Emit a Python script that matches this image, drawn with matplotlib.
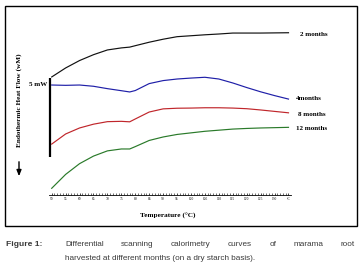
import matplotlib
matplotlib.use('Agg')
import matplotlib.pyplot as plt
from matplotlib.patches import Rectangle
from matplotlib.ticker import FixedLocator, FixedFormatter, MultipleLocator

# ---- data (heat flow in mW, curves offset for display) ----
temps = [50, 55, 60, 65, 70, 75, 78, 80, 85, 90, 95, 100, 105, 110, 115, 120, 125, 130, 135]
flow_2m = [7.79, 8.36, 8.83, 9.20, 9.50, 9.63, 9.68, 9.77, 9.99, 10.18, 10.34, 10.40,
           10.46, 10.51, 10.57, 10.57, 10.57, 10.58, 10.59]
flow_4m = [7.28, 7.26, 7.28, 7.20, 7.05, 6.92, 6.84, 6.93, 7.37, 7.56, 7.66, 7.72,
           7.77, 7.66, 7.41, 7.12, 6.85, 6.61, 6.39]
flow_8m = [3.54, 4.18, 4.56, 4.80, 4.96, 4.98, 4.95, 5.13, 5.57, 5.77, 5.81, 5.82,
           5.84, 5.84, 5.82, 5.78, 5.70, 5.61, 5.52]
flow_12m = [0.74, 1.62, 2.30, 2.78, 3.11, 3.23, 3.23, 3.38, 3.77, 3.99, 4.15, 4.25,
            4.35, 4.42, 4.49, 4.53, 4.56, 4.58, 4.60]
series_labels = ['2 months', '4months', '8 months', '12 months']
series_colors = ['#111111', '#1f1fa8', '#c0262b', '#2a7a2a']
tick_values = list(range(50, 136, 5))
tick_labels = [str(v) for v in tick_values[:-1]] + ['°C']
scale_bar_mw = 5

W, H = 364, 278
def fx(px):
    return px / W
def fy(py):
    return 1 - py / H

fig = plt.figure(figsize=(W / 100, H / 100), dpi=100)
fig.patch.set_facecolor('white')

serif = ['Liberation Serif', 'DejaVu Serif']

# data axes: x pixel 49..291, y pixel 25..195
ax = fig.add_axes([fx(49), fy(195), (291 - 49) / W, (195 - 25) / H])
ax.set_xlim(49.03, 135.9)
ax.set_ylim(0.316, 11.08)
for s in ['left', 'top', 'right']:
    ax.spines[s].set_visible(False)
ax.spines['bottom'].set_linewidth(0.6)
ax.set_yticks([])
ax.xaxis.set_major_locator(FixedLocator(tick_values))
ax.xaxis.set_major_formatter(FixedFormatter(tick_labels))
ax.xaxis.set_minor_locator(MultipleLocator(1))
ax.tick_params(axis='x', which='major', direction='in', length=1.8, width=0.5,
               pad=1.2, labelsize=2.6)
ax.tick_params(axis='x', which='minor', direction='in', length=1.1, width=0.4)
for lab in ax.get_xticklabels():
    lab.set_family(serif)

all_series = [flow_2m, flow_4m, flow_8m, flow_12m]
for vals, col in zip(all_series, series_colors):
    ax.plot(temps, vals, color=col, lw=0.85, clip_on=False)

# scale bar
ax.plot([49.4, 49.4], [7.72, 7.72 - scale_bar_mw], color='black', lw=1.6,
        solid_capstyle='butt', clip_on=False)
fig.text(fx(47), fy(85), '5 mW', ha='right', va='center', fontsize=5,
         fontweight='bold', family=serif)

# series labels
label_pos = [(300.5, 34), (295.5, 99), (298, 114), (296.5, 129)]
for (px, py), lab in zip(label_pos, series_labels):
    fig.text(fx(px), fy(py), lab, ha='left', va='center', fontsize=5,
             fontweight='bold', family=serif)

# y label and arrow
fig.text(fx(19), fy(100), 'Endothermic Heat Flow (wM)', rotation=90, ha='center',
         va='center', fontsize=5.2, fontweight='bold', family=serif)
ax.annotate('', xy=(19, H - 179), xytext=(19, H - 159),
            xycoords='figure pixels', textcoords='figure pixels',
            arrowprops=dict(arrowstyle='-|>,head_length=0.35,head_width=0.14',
                            color='black', lw=1.0))

# x label
fig.text(fx(168), fy(216), 'Temperature (°C)', ha='center', va='center', fontsize=5.2,
         fontweight='bold', family=serif)

# frame box
fig.patches.append(Rectangle((fx(5), fy(226)), (357 - 5) / W, (226 - 6) / H,
                             transform=fig.transFigure, fill=False, lw=1.0,
                             edgecolor='black'))

# caption
cap_font = ['Liberation Sans', 'DejaVu Sans']
cap_col = '#3a3a3a'
fig.canvas.draw()
r = fig.canvas.get_renderer()

def fit_size(txt, target_px, base=7.0, **kw):
    t = fig.text(0, 0, txt, fontsize=base, family=cap_font, **kw)
    w = t.get_window_extent(r).width
    t.remove()
    return base * target_px / w

line2 = 'harvested at different months (on a dry starch basis).'
body_size = fit_size(line2, 181) * 1.06

fig.text(fx(5.5), fy(245), 'Figure 1:', ha='left', va='center', fontsize=body_size * 1.04,
         fontweight='bold', family=cap_font, color=cap_col)

line1 = 'Differential scanning calorimetry curves of marama root'.split()
words = []
total = 0
for w in line1:
    t = fig.text(0, fy(245), w, ha='left', va='center', fontsize=body_size,
                 family=cap_font, color=cap_col)
    words.append(t)
    total += t.get_window_extent(r).width
x0, x1 = 65, 355
gap = (x1 - x0 - total) / (len(words) - 1)
x = x0
for t in words:
    t.set_x(fx(x))
    x += t.get_window_extent(r).width + gap
fig.text(fx(65), fy(258), line2, ha='left', va='center', fontsize=body_size,
         family=cap_font, color=cap_col)

fig.savefig('out.png', dpi=100, facecolor='white')
